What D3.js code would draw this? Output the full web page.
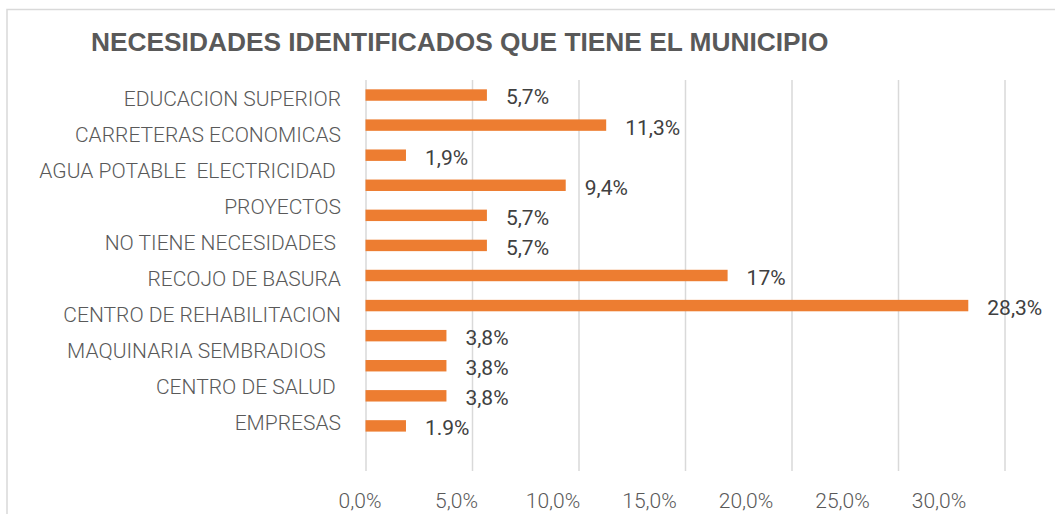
<!DOCTYPE html>
<html>
<head>
<meta charset="utf-8">
<script src="https://cdn.jsdelivr.net/npm/d3@7"></script>
<style>
  html, body { margin: 0; padding: 0; background: #ffffff; }
  svg { display: block; }
  text { white-space: pre; }
</style>
</head>
<body>
<svg id="chart" width="1055" height="514"></svg>
<script>
// ---- data ----
const title = "NECESIDADES IDENTIFICADOS QUE TIENE EL MUNICIPIO";
const categories = [
  "EDUCACION SUPERIOR",
  "CARRETERAS ECONOMICAS",
  "AGUA POTABLE  ELECTRICIDAD ",
  "PROYECTOS",
  "NO TIENE NECESIDADES ",
  "RECOJO DE BASURA",
  "CENTRO DE REHABILITACION",
  "MAQUINARIA SEMBRADIOS   ",
  "CENTRO DE SALUD ",
  "EMPRESAS"
];
const barValues = [5.7, 11.3, 1.9, 9.4, 5.7, 5.7, 17, 28.3, 3.8, 3.8, 3.8, 1.9];
const valueLabels = ["5,7%", "11,3%", "1,9%", "9,4%", "5,7%", "5,7%", "17%", "28,3%", "3,8%", "3,8%", "3,8%", "1.9%"];
const tickValues = [0, 5, 10, 15, 20, 25, 30];
const tickLabels = ["0,0%", "5,0%", "10,0%", "15,0%", "20,0%", "25,0%", "30,0%"];
const slotCount = 13; // bar slots on the value axis (last one empty)

// ---- layout ----
const W = 1055, H = 514;
const plot = { left: 365.5, right: 1004.5, top: 80, bottom: 471 };
const svg = d3.select("#chart");

const x = d3.scaleLinear().domain([0, 30]).range([plot.left, plot.right]);
const y = d3.scaleBand().domain(d3.range(slotCount)).range([plot.top, plot.bottom]).paddingInner(0.62).paddingOuter(0.31);
const labelY = d3.scalePoint().domain(categories).range([99, 423]);
const tickLabelX = d3.scaleLinear().domain([0, 30]).range([360, 939]);

// chart frame
svg.append("path")
  .attr("d", `M7,${H} L7,9.5 L${W},9.5`)
  .attr("fill", "none")
  .attr("stroke", "#d9d9d9")
  .attr("stroke-width", 1.5);

// title
svg.append("text")
  .attr("x", 91)
  .attr("y", 50.5)
  .attr("font-family", "'Liberation Sans', Arial, sans-serif")
  .attr("font-weight", "bold")
  .attr("font-size", 26.3)
  .attr("fill", "#595959")
  .text(title);

// gridlines
const grid = svg.append("g")
  .attr("transform", `translate(0,${plot.bottom})`)
  .call(d3.axisBottom(x).tickValues(tickValues).tickSize(-(plot.bottom - plot.top)).tickFormat(""));
grid.select(".domain").remove();
grid.selectAll(".tick line").attr("stroke", "#d9d9d9").attr("stroke-width", 1.5);

// tick labels
svg.append("g").selectAll("text")
  .data(tickValues)
  .join("text")
  .attr("x", d => tickLabelX(d))
  .attr("y", 501)
  .attr("dy", "0.355em")
  .attr("text-anchor", "middle")
  .attr("font-family", "Roboto, 'Liberation Sans', sans-serif")
  .attr("font-weight", 300)
  .attr("font-size", 21)
  .attr("fill", "#595959")
  .text((d, i) => tickLabels[i]);

// bars
svg.append("g").selectAll("rect")
  .data(barValues)
  .join("rect")
  .attr("x", x(0))
  .attr("y", (d, i) => y(i))
  .attr("width", d => x(d) - x(0))
  .attr("height", y.bandwidth())
  .attr("fill", "#ED7D31");

// value labels
svg.append("g").selectAll("text")
  .data(barValues)
  .join("text")
  .attr("x", d => x(d) + 19)
  .attr("y", (d, i) => y(i) + y.bandwidth() / 2 + 2)
  .attr("dy", "0.355em")
  .attr("font-family", "Roboto, 'Liberation Sans', sans-serif")
  .attr("font-size", 21)
  .attr("fill", "#404040")
  .text((d, i) => valueLabels[i]);

// category labels
svg.append("g").selectAll("text")
  .data(categories)
  .join("text")
  .attr("x", 341)
  .attr("y", d => labelY(d))
  .attr("dy", "0.355em")
  .attr("text-anchor", "end")
  .attr("font-family", "Roboto, 'Liberation Sans', sans-serif")
  .attr("font-weight", 300)
  .attr("font-size", 21)
  .attr("fill", "#595959")
  .text(d => d);
</script>
</body>
</html>
